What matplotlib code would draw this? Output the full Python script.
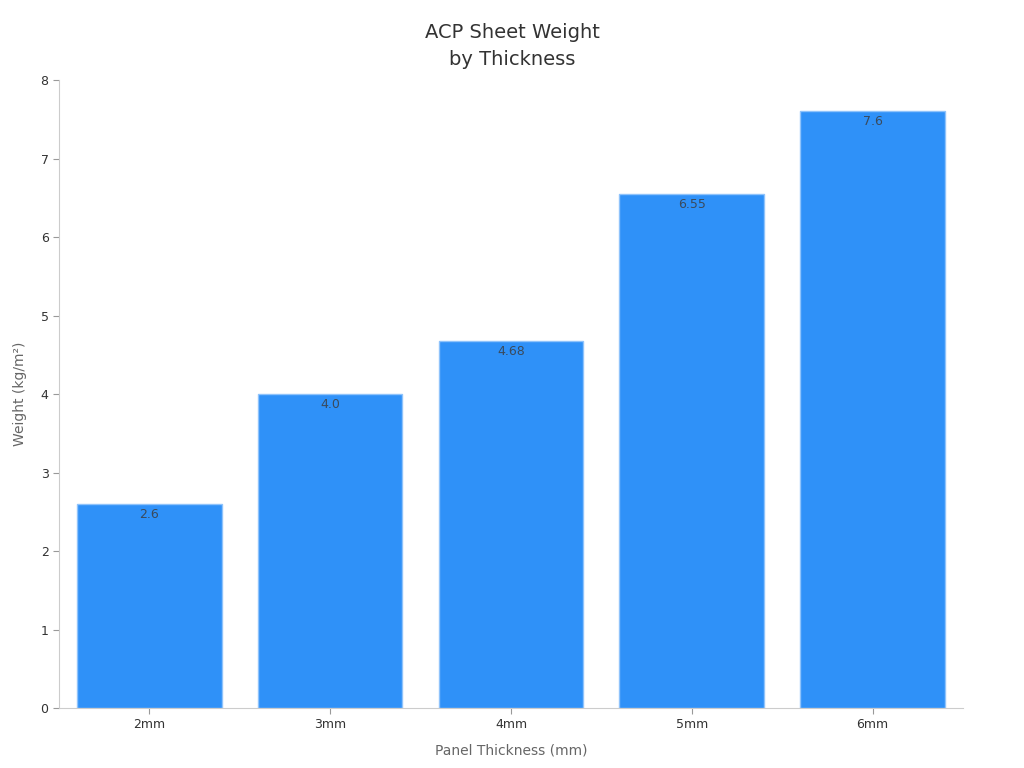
import numpy as np
from matplotlib import pyplot as plt

# ACP sheet weight per panel thickness
thickness = ['2mm', '3mm', '4mm', '5mm', '6mm']
weights = [2.6, 4.0, 4.68, 6.55, 7.6]
value_labels = ['2.6', '4.0', '4.68', '6.55', '7.6']

fig = plt.figure(figsize=(10.24, 7.68), dpi=100)
ax = fig.add_axes([0.0576, 0.0781, 0.8828, 0.8177])

x = np.arange(len(thickness))
bars = ax.bar(x, weights, width=0.8, color='#2f91f8', edgecolor='#8fc3fb', linewidth=1)

for b, lab in zip(bars, value_labels):
    ax.text(b.get_x() + b.get_width() / 2, b.get_height() - 0.05, lab,
            ha='center', va='top', fontsize=9, color='#3a4a5c')

ax.set_xlim(-0.5, 4.5)
ax.set_ylim(0, 8)
ax.set_xticks(x)
ax.set_xticklabels(thickness)
ax.set_yticks(range(9))
ax.tick_params(labelsize=9, colors='#333333', length=4)
ax.tick_params(axis='both', color='#999999')

for s in ['top', 'right']:
    ax.spines[s].set_visible(False)
for s in ['left', 'bottom']:
    ax.spines[s].set_color('#cccccc')

ax.set_xlabel('Panel Thickness (mm)', fontsize=10, color='#666666', labelpad=9)
ax.set_ylabel('Weight (kg/m²)', fontsize=10, color='#666666', labelpad=10)
fig.suptitle('ACP Sheet Weight\nby Thickness', fontsize=14, color='#333333',
             y=0.97, linespacing=1.5)

plt.savefig('out.png', dpi=100)
